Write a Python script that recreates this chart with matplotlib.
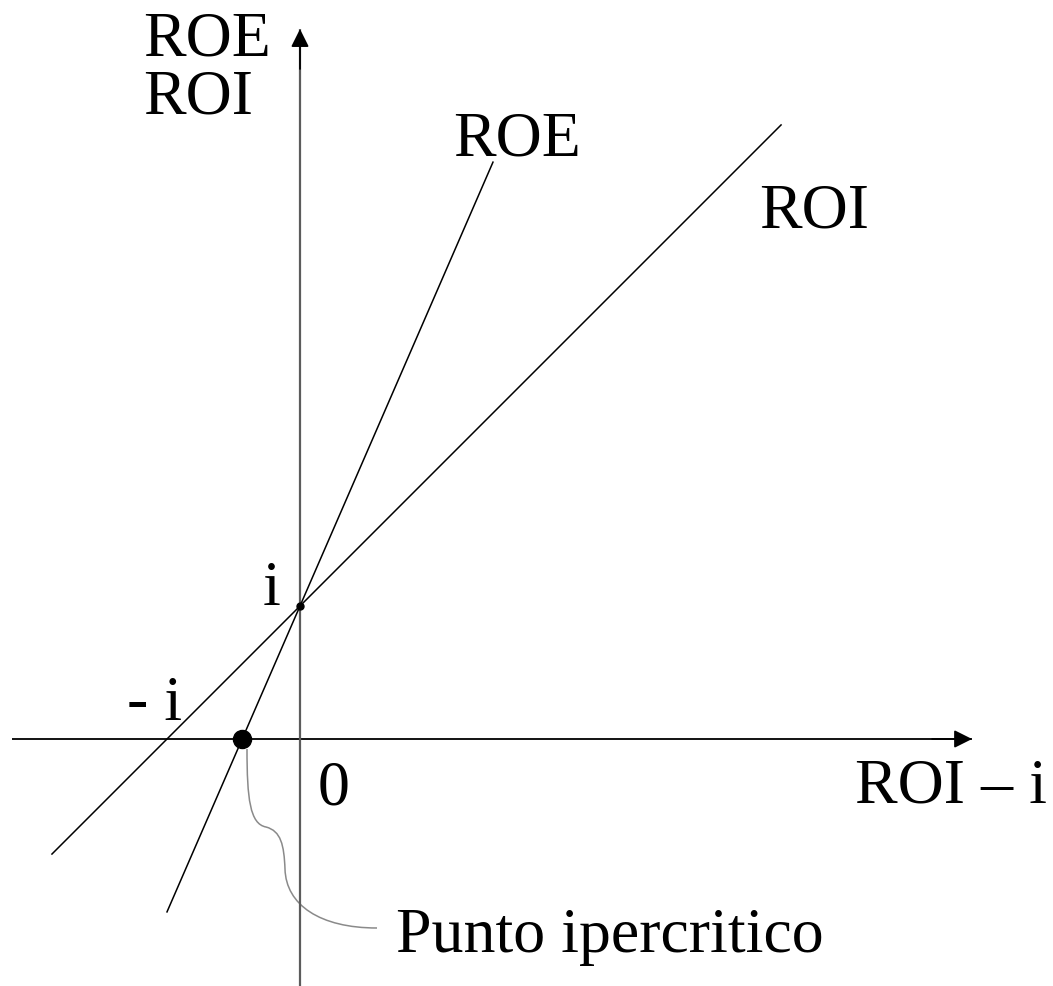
import numpy as np
import matplotlib.pyplot as plt
from matplotlib.path import Path
from matplotlib.patches import PathPatch

plt.rcParams['font.family'] = ['Liberation Serif', 'DejaVu Serif']

# --- dati del grafico (unità: i = 1) ---
i_val = 1.0
leva = 1.3                       # D/E: pendenza ROE = 1 + D/E
roi_x = [-1.865, 3.617]          # estremi della retta ROI (asse ROI - i)
roe_x = [-1.0, 1.451]            # estremi della retta ROE
asse_x = [-2.165, 5.053]
asse_y = [-1.86, 5.338]

roi_y = [i_val + x for x in roi_x]
roe_y = [i_val + (1 + leva) * x for x in roe_x]
x_iper = -i_val / (1 + leva)     # punto ipercritico: ROE = 0

# pixel -> unità del grafico (origine a (300, 740), 133 px per unità)
def px(xp, yp):
    return ((xp - 300) / 133.0, (740 - yp) / 133.0)

fig = plt.figure(figsize=(10.53, 9.87), dpi=100)
ax = fig.add_axes([0, 0, 1, 1])
ax.set_xlim(-300 / 133.0, 753 / 133.0)
ax.set_ylim(-247 / 133.0, 740 / 133.0)
ax.axis('off')

# --- assi ---
ax.plot(asse_x, [0, 0], color='black', lw=1.3, solid_capstyle='butt')
ax.plot([0, 0], asse_y, color='#5c5c5c', lw=1.6, solid_capstyle='butt')
frecce = dict(arrowstyle='-|>', mutation_scale=27, lw=1.3, color='black',
              shrinkA=0, shrinkB=0)
ax.annotate('', xy=(asse_x[1], 0), xytext=(asse_x[1] - 0.3, 0), arrowprops=frecce)
ax.annotate('', xy=(0, asse_y[1]), xytext=(0, asse_y[1] - 0.3), arrowprops=frecce)

# --- rette ROI e ROE ---
ax.plot(roi_x, roi_y, color='black', lw=1.1)
ax.plot(roe_x, roe_y, color='black', lw=1.1)

# punti
ax.plot([0], [i_val], 'o', color='black', ms=5, zorder=5)
ax.plot([x_iper], [0], 'o', color='black', ms=13, zorder=5)

# connettore curvo verso l'etichetta
verts = [px(247, 750),
         px(247, 800), px(250, 825), px(266, 828),
         px(281, 832), px(284, 846), px(285, 870),
         px(286, 906), px(320, 929), px(377, 929)]
codes = [Path.MOVETO] + [Path.CURVE4] * 9
ax.add_patch(PathPatch(Path(verts, codes), fc='none', ec='#8a8a8a', lw=1.1))

# --- etichette ---
fs = 46
def testo(xp, yp, s, **kw):
    ax.text(*px(xp, yp), s, fontsize=fs, ha='left', va='baseline', **kw)

testo(143, 56, 'ROE')
testo(143, 113, 'ROI')
testo(453, 155, 'ROE')
testo(759, 228, 'ROI')
testo(263, 605, 'i')
testo(127, 720, '- i')
testo(318, 805, '0')
testo(855, 803, 'ROI \u2013 i')
testo(396, 952, 'Punto ipercritico')

fig.savefig('out.png', dpi=100)
